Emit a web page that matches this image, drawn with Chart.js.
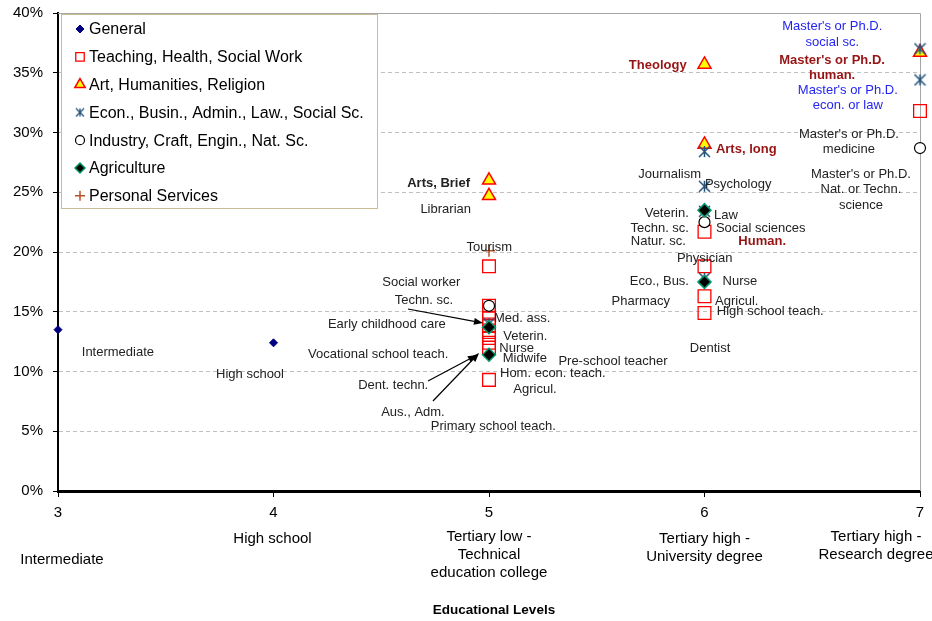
<!DOCTYPE html>
<html>
<head>
<meta charset="utf-8">
<script src="https://cdn.jsdelivr.net/npm/chart.js@4.4.1/dist/chart.umd.min.js"></script>
<style>
html, body { margin: 0; padding: 0; background: #fff; }
#chart { display: block; }
</style>
</head>
<body>
<canvas id="chart" width="932" height="621"></canvas>
<script>
// Educational levels (x axis)
const levels = [3, 4, 5, 6, 7];
const levelNames = [
    ['Intermediate'],
    ['High school'],
    ['Tertiary low -', 'Technical', 'education college'],
    ['Tertiary high -', 'University degree'],
    ['Tertiary high -', 'Research degree']
];
const yTicks = [0, 5, 10, 15, 20, 25, 30, 35, 40];

const seriesNames = [
    'General',
    'Teaching, Health, Social Work',
    'Art, Humanities, Religion',
    'Econ., Busin., Admin., Law., Social Sc.',
    'Industry, Craft, Engin., Nat. Sc.',
    'Agriculture',
    'Personal Services'
];

// Series values (share in %)
const generalX = [3, 4];
const generalY = [13.5, 12.4];
const teachX = [5, 5, 5, 5, 5, 5, 5, 5, 5, 5, 6, 6, 6, 6, 7];
const teachY = [18.8, 15.5, 15.0, 14.5, 13.8, 13.3, 12.8, 12.4, 12.0, 9.3, 21.7, 18.8, 16.3, 14.9, 31.8];
const artsX = [5, 5, 6, 6, 7];
const artsY = [26.0, 24.7, 35.7, 29.0, 36.7];
const econX = [5, 6, 6, 6, 6, 7, 7];
const econY = [14.0, 28.4, 25.5, 23.4, 17.8, 37.0, 34.4];
const industryX = [5, 6, 7];
const industryY = [15.5, 22.5, 28.7];
const agriX = [5, 5, 6, 6];
const agriY = [13.7, 11.4, 23.5, 17.5];
const personalX = [5];
const personalY = [20.1];

// Point notes: [text, level, percent, align, kind]
// kind: n = plain, b = bold, r = bold dark red, u = blue
const notes = [
    ['Intermediate', 3.278, 11.63, 'center', 'n'],
    ['High school', 3.891, 9.79, 'center', 'n'],
    ['Arts, Brief', 4.912, 25.75, 'right', 'b'],
    ['Librarian', 4.799, 23.57, 'center', 'n'],
    ['Tourism', 5.001, 20.39, 'center', 'n'],
    ['Social worker', 4.686, 17.43, 'center', 'n'],
    ['Techn. sc.', 4.698, 15.92, 'center', 'n'],
    ['Early childhood care', 4.799, 13.97, 'right', 'n'],
    ['Med. ass.', 5.023, 14.42, 'left', 'n'],
    ['Veterin.', 5.066, 12.91, 'left', 'n'],
    ['Nurse', 5.048, 11.91, 'left', 'n'],
    ['Midwife', 5.064, 11.07, 'left', 'n'],
    ['Vocational school teach.', 4.811, 11.44, 'right', 'n'],
    ['Pre-school teacher', 5.322, 10.82, 'left', 'n'],
    ['Hom. econ. teach.', 5.051, 9.85, 'left', 'n'],
    ['Dent. techn.', 4.718, 8.85, 'right', 'n'],
    ['Agricul.', 5.113, 8.54, 'left', 'n'],
    ['Aus., Adm.', 4.647, 6.55, 'center', 'n'],
    ['Primary school teach.', 5.020, 5.38, 'center', 'n'],
    ['Theology', 5.917, 35.65, 'right', 'r'],
    ['Arts, long', 6.053, 28.59, 'left', 'r'],
    ['Journalism', 5.984, 26.50, 'right', 'n'],
    ['Psychology', 6.002, 25.69, 'left', 'n'],
    ['Veterin.', 5.927, 23.21, 'right', 'n'],
    ['Law', 6.044, 23.10, 'left', 'n'],
    ['Techn. sc.', 5.928, 21.95, 'right', 'n'],
    ['Social sciences', 6.053, 21.95, 'left', 'n'],
    ['Natur. sc.', 5.913, 20.86, 'right', 'n'],
    ['Human.', 6.157, 20.86, 'left', 'r'],
    ['Physician', 6.001, 19.47, 'center', 'n'],
    ['Eco., Bus.', 5.928, 17.51, 'right', 'n'],
    ['Nurse', 6.084, 17.51, 'left', 'n'],
    ['Pharmacy', 5.840, 15.90, 'right', 'n'],
    ['Agricul.', 6.049, 15.90, 'left', 'n'],
    ['High school teach.', 6.057, 15.06, 'left', 'n'],
    ['Dentist', 6.026, 11.94, 'center', 'n'],
    ["Master's or Ph.D.\nsocial sc.", 6.593, 38.85, 'center', 'u'],
    ["Master's or Ph.D.\nhuman.", 6.592, 36.07, 'center', 'r'],
    ["Master's or Ph.D.\necon. or law", 6.665, 33.56, 'center', 'u'],
    ["Master's or Ph.D.\nmedicine", 6.670, 29.87, 'center', 'n'],
    ["Master's or Ph.D.\nNat. or Techn.\nscience", 6.726, 26.50, 'center', 'n']
];

// Arrows: [fromLevel, fromPct, toLevel, toPct]
const arrows = [
    [4.624, 15.23, 4.972, 14.06],
    [4.717, 9.21, 4.944, 11.38],
    [4.740, 7.53, 4.954, 11.55]
];

const FONT = "'Liberation Sans', Arial, sans-serif";

// six-armed asterisk marker for the Econ. series
function makeAsterisk(size, color, lw) {
    const c = document.createElement('canvas');
    c.width = size; c.height = size;
    const g = c.getContext('2d');
    g.strokeStyle = color;
    g.lineWidth = lw;
    g.beginPath();
    g.moveTo(1, 1); g.lineTo(size - 1, size - 1);
    g.moveTo(size - 1, 1); g.lineTo(1, size - 1);
    g.moveTo(size / 2, 1); g.lineTo(size / 2, size - 1);
    g.stroke();
    return c;
}
const starBig = makeAsterisk(13, '#24527a', 1.5);
const starSmall = makeAsterisk(10, '#24527a', 1.3);

const seriesX = [generalX, teachX, artsX, econX, industryX, agriX, personalX];
const seriesY = [generalY, teachY, artsY, econY, industryY, agriY, personalY];
const looks = [
    { style: 'rectRot', r: 4, bg: '#000080', border: '#000080', bw: 1, lr: 4 },
    { style: 'rect', r: 9, bg: 'rgba(0,0,0,0)', border: '#ff0000', bw: 1.3, lr: 6 },
    { style: 'triangle', r: 7.5, bg: '#ffff00', border: '#ff0000', bw: 1.5, lr: 6 },
    { style: starBig, r: 7, bg: '#24527a', border: '#24527a', bw: 1, lr: 5, legendStyle: starSmall },
    { style: 'circle', r: 5.5, bg: '#ffffff', border: '#000000', bw: 1.2, lr: 4.5 },
    { style: 'rectRot', r: 6.5, bg: '#000000', border: '#00996b', bw: 1.5, lr: 5 },
    { style: 'cross', r: 6, bg: '#b5532a', border: '#b5532a', bw: 1.5, lr: 5 }
];

const datasets = seriesNames.map((name, i) => ({
    label: name,
    data: seriesX[i].map((x, j) => ({ x: x, y: seriesY[i][j] })),
    pointStyle: looks[i].style,
    pointRadius: looks[i].r,
    pointHoverRadius: looks[i].r,
    pointBackgroundColor: looks[i].bg,
    pointBorderColor: looks[i].border,
    pointBorderWidth: looks[i].bw,
    showLine: false,
    clip: false,
    order: seriesNames.length - 1 - i
}));

// grey frame on the top and right side of the plot area
const framePlugin = {
    id: 'frame',
    beforeDatasetsDraw(chart) {
        const { ctx, chartArea: a } = chart;
        ctx.save();
        ctx.strokeStyle = '#a6a6a6';
        ctx.lineWidth = 1;
        ctx.beginPath();
        ctx.moveTo(a.left, a.top + 0.5);
        ctx.lineTo(a.right + 0.5, a.top + 0.5);
        ctx.lineTo(a.right + 0.5, a.bottom);
        ctx.stroke();
        ctx.restore();
    }
};

// text notes and arrows next to the points
const notesPlugin = {
    id: 'notes',
    afterDatasetsDraw(chart) {
        const { ctx } = chart;
        const xs = chart.scales.x, ys = chart.scales.y;
        ctx.save();
        ctx.textBaseline = 'middle';
        notes.forEach(n => {
            const px = xs.getPixelForValue(n[1]);
            const py = ys.getPixelForValue(n[2]);
            const kind = n[4];
            ctx.font = (kind === 'b' || kind === 'r' ? 'bold ' : '') + '13px ' + FONT;
            ctx.fillStyle = kind === 'r' ? '#961414' : kind === 'u' ? '#2424f0' : '#222222';
            ctx.textAlign = n[3];
            n[0].split('\n').forEach((line, k) => ctx.fillText(line, px, py + k * 15.5));
        });

        ctx.strokeStyle = '#000';
        ctx.fillStyle = '#000';
        ctx.lineWidth = 1.2;
        arrows.forEach(a => {
            const x1 = xs.getPixelForValue(a[0]), y1 = ys.getPixelForValue(a[1]);
            const x2 = xs.getPixelForValue(a[2]), y2 = ys.getPixelForValue(a[3]);
            const ang = Math.atan2(y2 - y1, x2 - x1);
            const hl = 9, hw = 3.5;
            const bx = x2 - Math.cos(ang) * hl, by = y2 - Math.sin(ang) * hl;
            ctx.beginPath();
            ctx.moveTo(x1, y1);
            ctx.lineTo(bx, by);
            ctx.stroke();
            ctx.beginPath();
            ctx.moveTo(x2, y2);
            ctx.lineTo(bx + Math.sin(ang) * hw, by - Math.cos(ang) * hw);
            ctx.lineTo(bx - Math.sin(ang) * hw, by + Math.cos(ang) * hw);
            ctx.closePath();
            ctx.fill();
        });
        ctx.restore();
    }
};

// level names under the x ticks, axis title and the boxed legend
const nameShift = [4, -1, 0, 0, -44];
const nameTop = [560, 539, 537, 539, 537];
const extrasPlugin = {
    id: 'extras',
    afterDraw(chart) {
        const { ctx } = chart;
        const xs = chart.scales.x;
        ctx.save();
        ctx.textBaseline = 'middle';
        ctx.textAlign = 'center';
        ctx.fillStyle = '#000';
        ctx.font = '15px ' + FONT;
        levels.forEach((lv, i) => {
            const px = xs.getPixelForValue(lv) + nameShift[i];
            levelNames[i].forEach((line, k) => ctx.fillText(line, px, nameTop[i] + k * 18));
        });
        ctx.font = 'bold 13.5px ' + FONT;
        ctx.fillText('Educational Levels', xs.getPixelForValue(5) + 5, 610);

        // legend box
        ctx.fillStyle = '#ffffff';
        ctx.fillRect(61, 14, 317, 195);
        ctx.strokeStyle = '#c8bd96';
        ctx.lineWidth = 1;
        ctx.strokeRect(61.5, 14.5, 316, 194);
        ctx.font = '16px ' + FONT;
        ctx.textAlign = 'left';
        seriesNames.forEach((name, i) => {
            const ly = 29 + i * 27.8;
            const lk = looks[i];
            ctx.save();
            ctx.fillStyle = lk.bg;
            ctx.strokeStyle = lk.border;
            ctx.lineWidth = lk.bw;
            Chart.helpers.drawPoint(ctx, {
                pointStyle: lk.legendStyle || lk.style,
                radius: lk.lr,
                rotation: 0,
                borderWidth: lk.bw
            }, 80, ly);
            ctx.restore();
            ctx.fillStyle = '#000';
            ctx.fillText(name, 89, ly + 1);
        });
        ctx.restore();
    }
};

new Chart(document.getElementById('chart'), {
    type: 'scatter',
    data: { datasets: datasets },
    options: {
        responsive: false,
        animation: false,
        events: [],
        layout: { padding: { top: 13, right: 12, left: 0, bottom: 0 } },
        plugins: {
            legend: { display: false },
            tooltip: { enabled: false }
        },
        scales: {
            x: {
                type: 'linear',
                min: 3,
                max: 7,
                afterBuildTicks: s => { s.ticks = levels.map(v => ({ value: v })); },
                afterFit: s => { s.height = 130; s.paddingLeft = 0; s.paddingRight = 0; },
                ticks: { font: { size: 15, family: FONT }, color: '#000', padding: 7, maxRotation: 0, autoSkip: false },
                grid: { drawOnChartArea: false, drawTicks: true, tickLength: 6, tickColor: '#000', tickWidth: 1 },
                border: { color: '#000', width: 3 }
            },
            y: {
                min: 0,
                max: 40,
                afterBuildTicks: s => { s.ticks = yTicks.map(v => ({ value: v })); },
                afterFit: s => { s.width = 58; s.paddingTop = 0; s.paddingBottom = 0; },
                ticks: { callback: v => v + '%', font: { size: 15, family: FONT }, color: '#000', padding: 10 },
                grid: {
                    color: c => (c.tick && (c.tick.value === 0 || c.tick.value === 40)) ? 'rgba(0,0,0,0)' : '#c0c0c0',
                    tickColor: '#000',
                    tickLength: 5,
                    lineWidth: 1
                },
                border: { color: '#000', width: 2, dash: [4, 3] }
            }
        }
    },
    plugins: [framePlugin, notesPlugin, extrasPlugin]
});
</script>
</body>
</html>
